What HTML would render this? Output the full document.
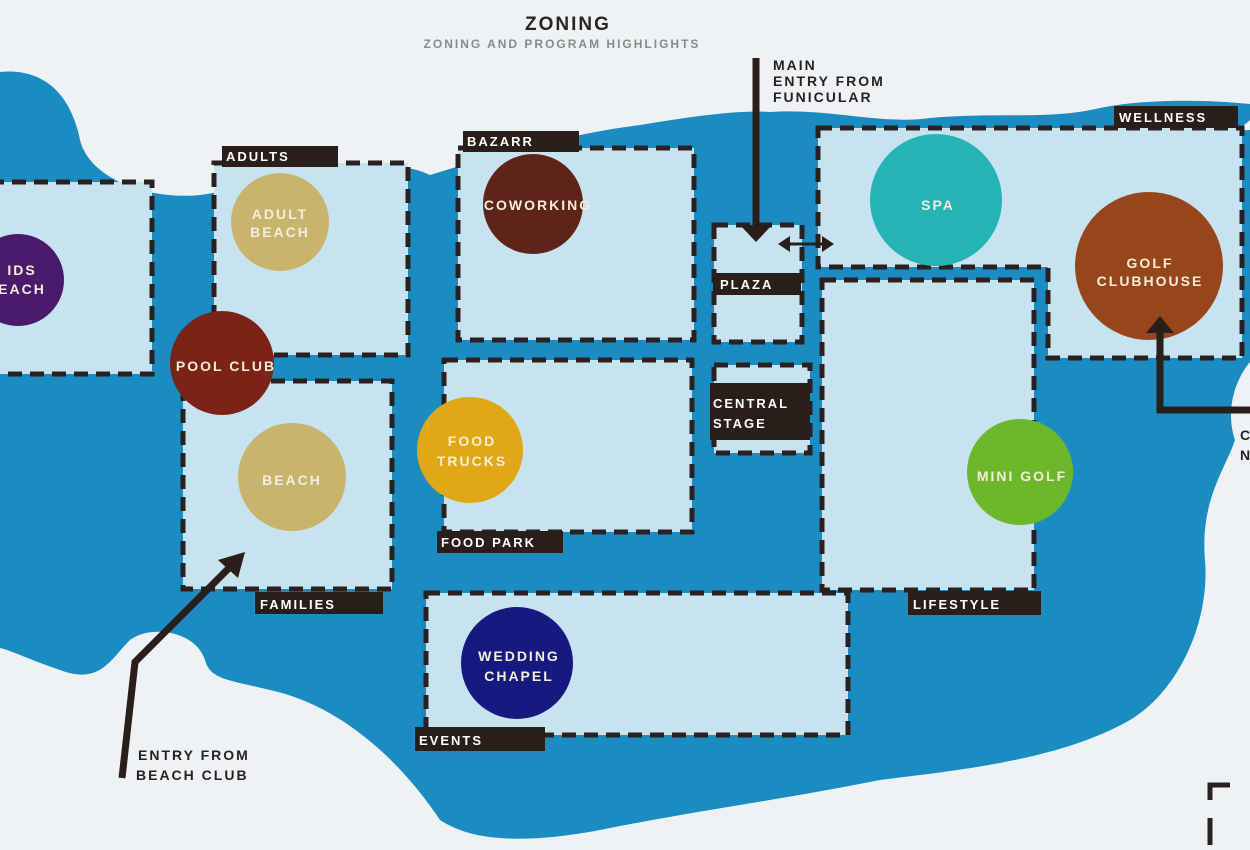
<!DOCTYPE html>
<html><head><meta charset="utf-8"><style>
html,body{margin:0;padding:0;background:#eef2f4;}
svg{display:block;}
text{font-family:"Liberation Sans",sans-serif;font-weight:bold;letter-spacing:2px;}
</style></head><body>
<svg width="1250" height="850" viewBox="0 0 1250 850" xmlns="http://www.w3.org/2000/svg">
<rect width="1250" height="850" fill="#eef2f4"/>
<text x="568" y="30" font-size="19" fill="#2a2422" text-anchor="middle">ZONING</text>
<text x="562" y="48" font-size="12" fill="#8a8a88" text-anchor="middle" font-weight="normal">ZONING AND PROGRAM HIGHLIGHTS</text>
<!-- water -->
<path d="M0,72 C40,68 70,90 80,140 C90,180 150,200 200,195 C240,190 260,178 300,172 C360,168 400,160 430,175 C480,160 560,135 640,125 C700,115 740,110 770,112 C830,108 880,125 930,118 C1000,112 1050,120 1100,108 C1150,98 1210,100 1250,104 L1250,362 C1235,380 1225,410 1235,440 C1225,470 1200,500 1205,560 C1210,620 1180,690 1130,720 C1060,760 960,770 880,780 C780,800 700,810 600,830 C520,845 470,840 440,820 C400,760 340,705 270,690 C230,680 210,680 205,660 C195,630 150,625 130,640 C110,660 100,685 60,670 C30,660 10,650 0,648 Z" fill="#1a8cc2"/>
<path d="M1250,120 C1230,140 1180,150 1150,145 C1120,140 1100,150 1090,135 L1250,130Z" fill="#eef2f4"/>
<g stroke="#2a2020" stroke-width="5" stroke-dasharray="14,8" fill="#c6e3ef">
<rect x="-10" y="182" width="162" height="192"/>
<rect x="214" y="163" width="194" height="192"/>
<rect x="183" y="381" width="209" height="208"/>
<rect x="458" y="148" width="236" height="192"/>
<rect x="444" y="360" width="248" height="172"/>
<rect x="426" y="593" width="422" height="142"/>
<rect x="714" y="225" width="88" height="117"/>
<rect x="714" y="365" width="96" height="88"/>
<rect x="822" y="280" width="212" height="310"/>
<path d="M818,128 L1242,128 L1242,358 L1048,358 L1048,267 L818,267 Z"/>
</g>
<g fill="#2a1e1b">
<rect x="222" y="146" width="116" height="21"/>
<rect x="255" y="592" width="128" height="22"/>
<rect x="463" y="131" width="116" height="21"/>
<rect x="437" y="531" width="126" height="22"/>
<rect x="415" y="727" width="130" height="24"/>
<rect x="713" y="273" width="88" height="22"/>
<rect x="710" y="383" width="100" height="57"/>
<rect x="908" y="591" width="133" height="24"/>
<rect x="1114" y="106" width="124" height="22"/>
</g>
<g font-size="13" fill="#fff">
<text x="226" y="161">ADULTS</text>
<text x="260" y="609">FAMILIES</text>
<text x="467" y="146">BAZARR</text>
<text x="441" y="547">FOOD PARK</text>
<text x="419" y="745">EVENTS</text>
<text x="720" y="289">PLAZA</text>
<text x="713" y="408">CENTRAL</text>
<text x="713" y="428">STAGE</text>
<text x="913" y="609">LIFESTYLE</text>
<text x="1119" y="122">WELLNESS</text>
</g>
<circle cx="18" cy="280" r="46" fill="#4a1a6c"/>
<circle cx="280" cy="222" r="49" fill="#c8b46c"/>
<circle cx="222" cy="363" r="52" fill="#7c2318"/>
<circle cx="292" cy="477" r="54" fill="#c8b46c"/>
<circle cx="533" cy="204" r="50" fill="#5e2419"/>
<circle cx="470" cy="450" r="53" fill="#e0a816"/>
<circle cx="517" cy="663" r="56" fill="#161a80"/>
<circle cx="936" cy="200" r="66" fill="#25b3b5"/>
<circle cx="1149" cy="266" r="74" fill="#97461c"/>
<circle cx="1020" cy="472" r="53" fill="#6cb82a"/>
<g font-size="14" fill="#f4eedc" text-anchor="middle">
<text x="22" y="275">IDS</text><text x="22" y="294">EACH</text>
<text x="280" y="219">ADULT</text><text x="280" y="237">BEACH</text>
<text x="226" y="371">POOL CLUB</text>
<text x="292" y="485">BEACH</text>
<text x="538" y="210">COWORKING</text>
<text x="472" y="446">FOOD</text><text x="472" y="466">TRUCKS</text>
<text x="519" y="661">WEDDING</text><text x="519" y="681">CHAPEL</text>
<text x="938" y="210">SPA</text>
<text x="1150" y="268">GOLF</text><text x="1150" y="286">CLUBHOUSE</text>
<text x="1022" y="481">MINI GOLF</text>
</g>
<g stroke="#2a1e1b" stroke-width="7" fill="none">
<line x1="756" y1="58" x2="756" y2="225"/>
<line x1="786" y1="244" x2="826" y2="244" stroke-width="3"/>
<polyline points="122,778 135,662 232,565"/>
<polyline points="1250,410 1160,410 1160,330"/>
</g>
<g fill="#2a1e1b">
<polygon points="740,225 772,225 756,242"/>
<polygon points="778,244 790,236 790,252"/>
<polygon points="834,244 822,236 822,252"/>
<polygon points="245,552 218,560 238,578"/>
<polygon points="1146,333 1174,333 1160,316"/>
</g>
<g font-size="14" fill="#2a2020">
<text x="773" y="70">MAIN</text>
<text x="773" y="86">ENTRY FROM</text>
<text x="773" y="102">FUNICULAR</text>
<text x="138" y="760">ENTRY FROM</text>
<text x="136" y="780">BEACH CLUB</text>
<text x="1240" y="440">C</text>
<text x="1240" y="460">N</text>
</g>
<path d="M1210,800 L1210,785 L1230,785 M1210,818 L1210,845" stroke="#2a2020" stroke-width="5" fill="none"/>
</svg>
</body></html>
